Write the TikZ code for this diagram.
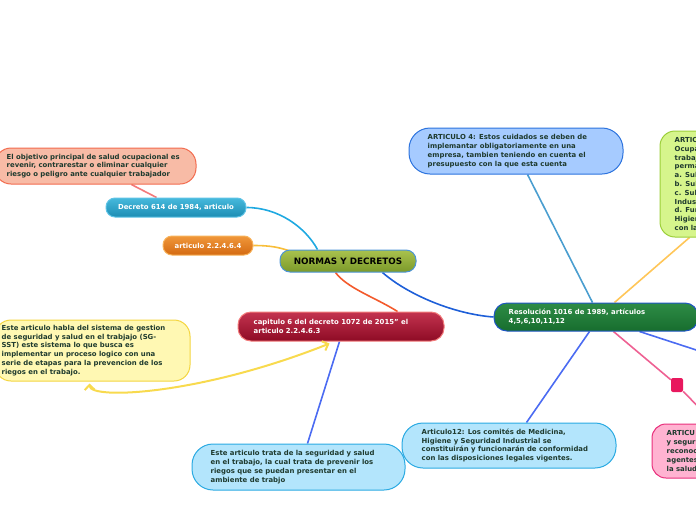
\documentclass[tikz,border=0pt]{standalone}
\usepackage{fontspec}
\setmainfont{DejaVu Sans}
\usetikzlibrary{calc,arrows.meta}
\pgfdeclarelayer{bg}
\pgfsetlayers{bg,main}
\newcommand\mytxtfont{\fontsize{6.9}{8.8}\selectfont\bfseries}
\definecolor{inkc}{HTML}{1E3A2E}
\definecolor{salmonfill}{HTML}{F8BBA6}\definecolor{salmonline}{HTML}{F26B4E}
\definecolor{dectop}{HTML}{46B9DC}\definecolor{decbot}{HTML}{1C8DB4}\definecolor{decline}{HTML}{5EC3E6}
\definecolor{arttop}{HTML}{F0973A}\definecolor{artbot}{HTML}{D46A12}\definecolor{artline}{HTML}{F7B25A}
\definecolor{normtop}{HTML}{A9C24E}\definecolor{normbot}{HTML}{7C9A2A}\definecolor{normline}{HTML}{4C94D6}
\definecolor{captop}{HTML}{C3334F}\definecolor{capbot}{HTML}{8E0B25}\definecolor{capline}{HTML}{F27A7A}
\definecolor{yelfill}{HTML}{FFF8B3}\definecolor{yelline}{HTML}{F4D53F}
\definecolor{lbfill}{HTML}{B3E5FC}\definecolor{lbline}{HTML}{2AAAE2}
\definecolor{afourfill}{HTML}{A6CBFF}\definecolor{afourline}{HTML}{2C73DE}
\definecolor{grfill}{HTML}{D6F58C}\definecolor{grline}{HTML}{9CCF3A}
\definecolor{restop}{HTML}{2E8C46}\definecolor{resbot}{HTML}{176D2E}\definecolor{resline}{HTML}{1F56C4}
\definecolor{pkfill}{HTML}{FFB3D1}\definecolor{pkline}{HTML}{E8307C}
\definecolor{sqcol}{HTML}{E8185E}
\definecolor{cA}{HTML}{F47A7A}\definecolor{cB}{HTML}{1FA9E1}\definecolor{cC}{HTML}{F8BE3A}
\definecolor{cD}{HTML}{F35A2C}\definecolor{cE}{HTML}{1E5FD8}\definecolor{cF}{HTML}{4B6BF2}
\definecolor{cG}{HTML}{4A9ED0}\definecolor{cH}{HTML}{FFC658}\definecolor{cI}{HTML}{EE6193}
\definecolor{cY}{HTML}{F8DA4E}
\begin{document}
\begin{tikzpicture}[x=1pt,y=-1pt,
  box/.style={draw, line width=1pt, inner sep=0pt, anchor=center},
  txt/.style={inner sep=0pt, align=left, font=\mytxtfont, text=inkc, anchor=west},
  wtxt/.style={txt, text=white},
  conn/.style={line width=1.6pt}]
\useasboundingbox (0,0) rectangle (696,520);
\clip (0,0) rectangle (696,520);

% boxes
\node[box, draw=salmonline, fill=salmonfill, rounded corners=16pt, minimum width=201pt, minimum height=36pt] (salmon) at (95.5,166) {};
\node[txt] (salmont) at ([xshift=12pt]salmon.west) {El objetivo principal de salud ocupacional es\\revenir, contrarestar o eliminar cualquier\\riesgo o peligro ante cualquier trabajador};

\node[box, draw=decline, top color=dectop, bottom color=decbot, rounded corners=9pt, minimum width=140pt, minimum height=19pt, font=\mytxtfont, text=white] (decreto) at (176,207.5) {Decreto 614 de 1984, articulo};

\node[box, draw=artline, top color=arttop, bottom color=artbot, rounded corners=9pt, minimum width=90pt, minimum height=19pt, font=\mytxtfont, text=white] (art64) at (208,245.5) {articulo 2.2.4.6.4};

\node[box, draw=normline, top color=normtop, bottom color=normbot, rounded corners=10pt, minimum width=136pt, minimum height=22pt, font=\fontsize{8.8}{10}\selectfont\bfseries, text=black] (normas) at (348,261) {NORMAS Y DECRETOS};

\node[box, draw=capline, top color=captop, bottom color=capbot, rounded corners=13pt, minimum width=206pt, minimum height=29pt] (capitulo) at (341,326.5) {};
\node[wtxt] (capitulot) at ([xshift=16pt]capitulo.west) {capitulo 6 del decreto 1072 de 2015” el\\articulo 2.2.4.6.3};

\node[box, draw=yelline, fill=yelfill, rounded corners=16pt, minimum width=195pt, minimum height=61pt] (yellow) at (92.5,350.5) {};
\node[txt] (yellowt) at ([xshift=7pt]yellow.west) {Este articulo habla del sistema de gestion\\de seguridad y salud en el trabjajo (SG-\\SST) este sistema lo que busca es\\implementar un proceso logico con una\\serie de etapas para la prevencion de los\\riegos en el trabajo.};

\node[box, draw=lbline, fill=lbfill, rounded corners=21pt, minimum width=213pt, minimum height=46pt] (bottomblue) at (298.5,467) {};
\node[txt] (bottombluet) at ([xshift=19pt]bottomblue.west) {Este articulo trata de la seguridad y salud\\en el trabajo, la cual trata de prevenir los\\riegos que se puedan presentar en el\\ambiente de trabjo};

\node[box, draw=afourline, fill=afourfill, rounded corners=21pt, minimum width=214pt, minimum height=46pt] (art4) at (516,151) {};
\node[txt] (art4t) at ([xshift=19pt]art4.west) {ARTICULO 4: Estos cuidados se deben de\\implemantar obligatoriamente en una\\empresa, tambien teniendo en cuenta el\\presupuesto con la que esta cuenta};

\node[box, draw=grline, fill=grfill, rounded corners=15pt, minimum width=130pt, minimum height=106pt] (green) at (725,184) {};
\node[txt] (greent) at ([xshift=15pt]green.west) {ARTIC\\Ocupa\\trabaj\\perma\\a. Sub\\b. Sub\\c. Sub\\Indus\\d. Fun\\Higien\\con la};

\node[box, draw=resline, top color=restop, bottom color=resbot, rounded corners=13pt, minimum width=204pt, minimum height=28pt] (resolucion) at (596,317) {};
\node[wtxt] (resoluciont) at ([xshift=15pt]resolucion.west) {Resolución 1016 de 1989, artículos\\4,5,6,10,11,12};

\node[box, draw=lbline, fill=lbfill, rounded corners=21pt, minimum width=214pt, minimum height=45pt] (art12) at (509,445.5) {};
\node[txt] (art12t) at ([xshift=20pt]art12.west) {Articulo12: Los comités de Medicina,\\Higiene y Seguridad Industrial se\\constituirán y funcionarán de conformidad\\con las disposiciones legales vigentes.};

\node[box, draw=pkline, fill=pkfill, rounded corners=14pt, minimum width=120pt, minimum height=54pt] (pink) at (712,451) {};
\node[txt] (pinkt) at ([xshift=15pt]pink.west) {ARTICU\\y segur\\reconoc\\agentes\\la salud};

\node[fill=sqcol, rounded corners=2pt, minimum width=12pt, minimum height=14pt, inner sep=0pt] (pinksq) at (677,385) {};
\coordinate (rightend) at (730,361);

% connectors
\begin{pgfonlayer}{bg}
\draw[conn, cA] (salmon) -- (decreto);
\draw[conn, cB] (decreto.east) .. controls +(32,0) and +(-12,-22) .. ($(normas.north west)+(38,0)$);
\draw[conn, cC] (art64.east) .. controls +(18,0) and +(-12,-4) .. ($(normas.north west)+(12,2)$);
\draw[conn, cD] ($(normas.south west)+(56,0)$) .. controls +(12,16) and +(-22,-14) .. ($(capitulo.north west)+(160,0)$);
\draw[conn, cE] ($(normas.south west)+(103,0)$) .. controls +(25,22) and +(-40,-3) .. (resolucion.west);
\draw[conn, cF] ($(capitulo.south west)+(102,0)$) -- ($(bottomblue.north west)+(116,0)$);
\draw[conn, cG] ($(art4.south west)+(119,0)$) -- ($(resolucion.north west)+(99,0)$);
\draw[conn, cH] ($(resolucion.north west)+(121,0)$) -- ($(green.south west)+(30,0)$);
\draw[conn, cF] ($(resolucion.south west)+(96,0)$) -- ($(art12.north west)+(125,0)$);
\draw[conn, cI] ($(resolucion.south west)+(120,0)$) -- (pinksq);
\draw[conn, cI] (pinksq) -- ($(pink.north west)+(63,0)$);
\draw[conn, cF] ($(resolucion.south west)+(146,0)$) -- (rightend);
\end{pgfonlayer}
\draw[line width=2pt, cY, {Straight Barb[length=5pt,width=10pt]}-{Straight Barb[length=5pt,width=10pt]}]
  ($(yellow.south west)+(95,2)$) .. controls (90,400) and (200,395) .. ($(capitulo.south west)+(92,2)$);
\end{tikzpicture}
\end{document}
